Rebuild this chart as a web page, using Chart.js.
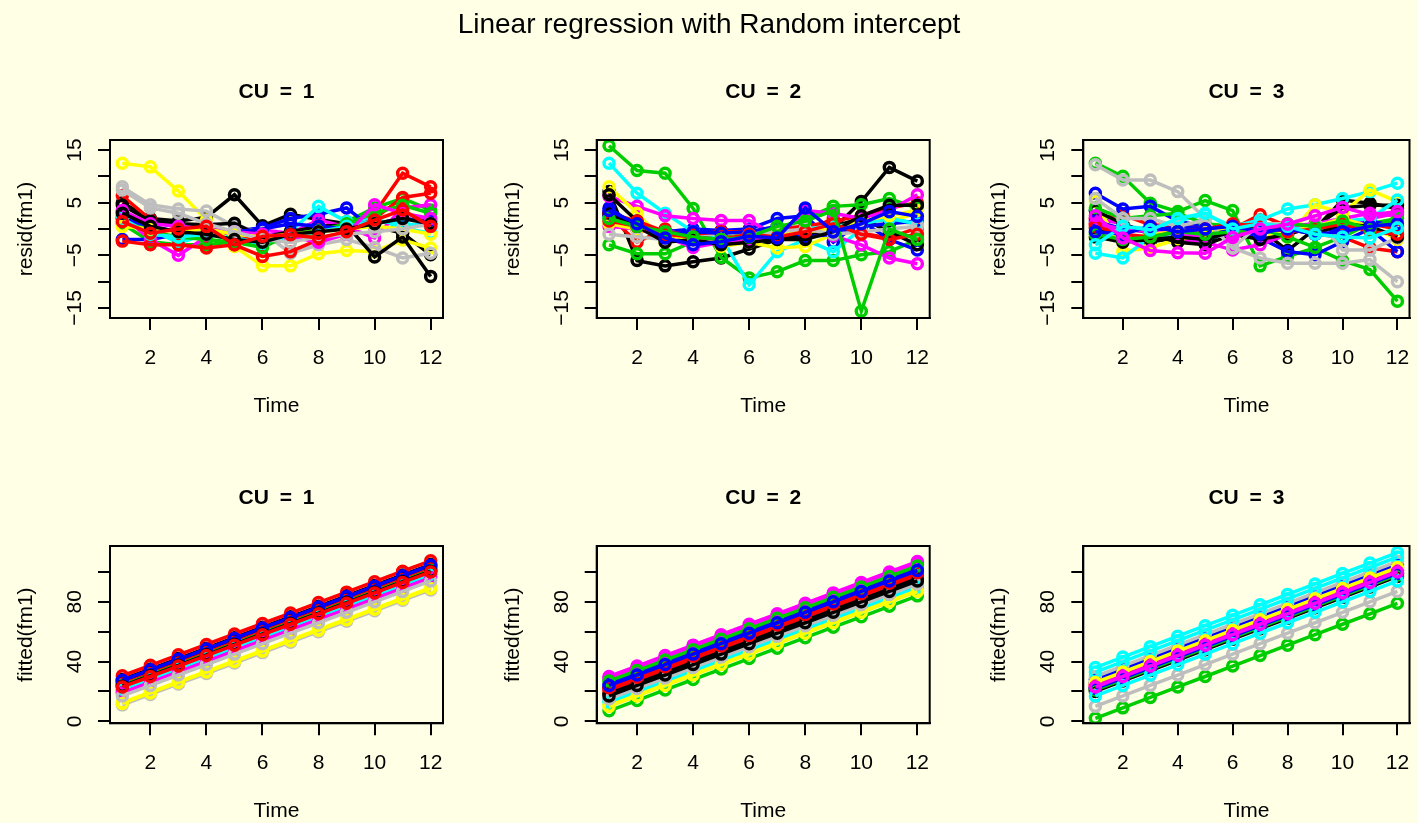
<!DOCTYPE html>
<html>
<head>
<meta charset="utf-8">
<title>Linear regression with Random intercept</title>
<script src="https://cdn.jsdelivr.net/npm/chart.js@4.4.1/dist/chart.umd.min.js"></script>
<style>
  html, body { margin: 0; padding: 0; background: #FFFFE5; }
  #wrap { position: relative; width: 1418px; height: 823px; overflow: hidden; }
  #wrap canvas { position: absolute; left: 0; top: 0; }
</style>
</head>
<body>
<div id="wrap"></div>
<script>
// R default palette, recycled over subjects
const palette = ['#000000', '#FF0000', '#00CD00', '#0000FF', '#00FFFF', '#FF00FF', '#FFFF00', '#BEBEBE'];

const times = [1, 2, 3, 4, 5, 6, 7, 8, 9, 10, 11, 12];
const xTicks = [2, 4, 6, 8, 10, 12];
const residTicks = [-15, -10, -5, 0, 5, 10, 15];
const residTickLabels = ['\u221215', '', '\u22125', '', '5', '', '15'];
const fittedTicks = [0, 20, 40, 60, 80, 100];
const fittedTickLabels = ['0', '', '40', '', '80', ''];
const cuTitles = ['CU = 1', 'CU = 2', 'CU = 3'];

// residuals, one row per subject
const residCU1 = [
  [5.0, 2.0, 1.5, 2.2, 6.5, 0.6, 2.8, 1.8, 1.0, 0.5, -0.8, -4.9],
  [6.3, 1.8, 0.2, -0.5, -1.5, -2.0, -0.5, 0.5, 1.0, 3.0, 10.6, 8.0],
  [1.0, -2.4, -3.0, -3.0, -2.4, -3.0, -1.4, -0.8, 1.4, 4.0, 5.8, 3.6],
  [-2.0, -2.0, -1.0, -0.5, -0.3, 0.2, 2.0, 2.8, 4.0, -0.2, 0.5, 1.0],
  [3.3, 0.0, -2.7, -1.0, -1.5, -3.0, -0.5, 4.3, 1.4, 2.0, 0.2, -0.8],
  [2.5, -2.0, -5.0, -1.5, -0.5, -0.2, -0.8, 1.7, 0.4, -1.7, 4.0, 4.6],
  [12.5, 11.8, 7.2, 1.7, -3.3, -7.0, -7.0, -4.7, -4.1, -4.3, -2.1, -3.6],
  [8.0, 4.6, 3.8, 3.4, 0.5, -0.5, -4.6, -3.0, -2.0, -3.5, -5.5, -4.6],
  [4.5, 1.5, 1.0, 0.8, 1.1, -1.5, -0.5, 0.5, 0.8, -5.3, -1.5, -9.0],
  [-2.3, -3.0, -3.0, -3.6, -3.0, -5.2, -4.3, -2.0, -0.5, 2.0, 6.0, 6.8],
  [2.0, -0.5, -1.5, -2.0, -2.5, -3.5, -1.0, -0.3, 1.0, 3.0, 4.5, 3.0],
  [2.0, 0.5, -0.5, 0.0, -0.5, 0.0, 1.0, 0.5, 0.0, 1.0, 2.0, 1.5],
  [2.0, -1.0, -1.5, -1.0, -2.0, -2.5, -1.5, -0.5, 0.5, 1.5, 1.0, 0.5],
  [3.5, 1.0, 0.5, 0.0, -0.5, -1.0, -1.5, -2.5, -1.0, 4.6, 3.0, 2.0],
  [0.5, 0.0, -0.5, 0.0, -1.0, -1.5, -1.0, -0.5, 0.0, 0.5, 0.0, -1.0],
  [7.4, 4.0, 3.0, 1.0, -0.5, -2.0, -2.5, -1.5, -1.0, -0.5, 0.0, 1.0],
  [3.0, 0.5, -0.5, -1.0, -2.0, -2.5, -1.0, -0.5, 0.0, 1.0, 2.0, 1.0],
  [1.4, -0.8, 0.0, 0.5, -3.0, -1.4, -1.1, -1.7, -0.5, 1.7, 3.6, 0.5]
];
const residCU2 = [
  [7.1, -6.0, -7.0, -6.2, -5.5, -3.8, -2.0, -1.5, 0.0, 5.2, 11.7, 9.1],
  [2.5, -2.5, 0.0, -1.5, -1.0, -1.5, -1.0, -0.5, 2.0, -0.8, -1.7, 0.2],
  [15.8, 11.1, 10.6, 3.9, -5.4, -9.3, -8.1, -6.0, -6.0, -4.9, -4.3, -2.0],
  [4.0, 0.5, -0.5, 0.0, -0.3, 0.0, 2.0, 2.5, -2.5, 1.5, -2.0, -4.0],
  [12.5, 6.8, 3.0, -0.5, -1.5, -10.6, -4.3, -2.0, -4.3, 0.0, 2.3, 0.8],
  [6.2, 4.3, 2.5, 2.0, 1.6, 1.6, -1.4, 0.5, -1.3, -3.0, -5.5, -6.6],
  [8.0, 3.0, -2.5, -1.0, -3.3, -2.5, -3.6, -3.3, -1.0, 2.0, 1.5, 3.0],
  [1.5, 0.5, -0.5, -1.0, -1.0, -0.5, 0.0, 0.5, 0.5, 1.0, 1.5, 1.0],
  [6.5, 1.5, -1.0, -2.0, -2.5, -2.0, -1.5, -1.0, 0.5, 2.0, -0.5, -3.0],
  [3.0, 1.5, -0.5, -1.0, -0.5, -0.5, 0.0, 0.5, 1.5, 2.5, 4.0, 5.0],
  [-3.0, -4.7, -4.7, -2.4, -1.8, -1.0, 0.0, 2.0, 4.3, 4.6, 5.8, 3.9],
  [2.5, 0.0, -1.0, -0.5, -0.8, -0.5, 0.5, -1.5, -1.0, 0.5, 1.0, 1.5],
  [2.0, 0.5, -1.0, -1.5, -2.0, -1.5, -1.0, 0.0, 0.5, 1.0, 2.0, 1.0],
  [0.5, 0.0, -1.5, -3.5, -2.5, -2.0, -1.5, 3.5, 3.0, 2.0, 3.5, 6.5],
  [1.0, 0.0, -1.0, -2.0, -2.0, -1.5, -1.0, -0.5, 0.0, 1.5, 2.5, 3.5],
  [-1.0, -1.5, -2.0, -2.5, -2.0, -1.0, -0.5, 0.0, -1.0, -0.5, 0.0, 0.5],
  [3.0, 0.5, -2.5, -2.0, -3.0, -2.5, -2.0, -2.0, -0.5, 2.5, 4.5, 4.5],
  [1.5, 0.5, -1.0, -1.5, -2.0, -1.0, -1.5, -0.5, 1.0, -1.0, -2.0, -1.0],
  [2.0, 0.5, -0.5, -1.5, -2.0, -1.5, 0.5, 1.5, 3.5, -15.6, 0.0, -2.0],
  [3.5, 1.0, -1.7, -3.0, -2.4, -1.4, -1.7, 4.0, -0.5, 1.0, 3.3, 2.4]
];
const residCU3 = [
  [0.2, -1.7, -2.4, -1.7, -2.7, 0.3, 0.0, -4.1, 0.0, 5.5, 4.9, 3.9],
  [2.0, 2.7, 0.8, 0.5, 0.2, 0.0, 2.7, 0.5, -1.0, -1.5, -3.6, -4.3],
  [12.5, 10.0, 4.9, 3.3, 5.4, 3.5, -7.0, -5.2, -3.6, -6.0, -7.7, -13.7],
  [6.8, 3.8, 4.3, 1.5, 0.5, 0.0, -1.7, -4.3, -4.9, -2.4, 0.0, -4.3],
  [3.5, 0.5, 0.0, 1.5, 2.8, 0.5, 1.7, 3.8, 4.6, 5.8, 7.1, 8.7],
  [2.0, 1.0, -1.0, -2.0, -2.5, -4.0, -3.0, -1.0, 0.5, 1.0, 2.0, 3.0],
  [5.2, -4.3, -3.5, -2.0, -1.0, 0.0, -1.0, -1.5, 4.6, 3.0, 7.4, 5.2],
  [12.2, 9.3, 9.3, 7.1, 2.0, -3.6, -5.5, -6.5, -6.5, -6.5, -5.8, -10.0],
  [3.5, 1.0, -1.0, -2.5, -3.0, -1.0, -2.0, -1.0, 0.5, 4.0, 4.5, 4.5],
  [1.0, 0.0, -0.5, -1.0, -0.5, 0.5, 1.0, 0.0, -0.5, 0.5, 1.0, 0.0],
  [4.0, 2.0, 2.5, 3.0, 1.0, 0.5, 0.0, -1.5, -3.5, -1.5, 1.0, 2.0],
  [1.5, 0.0, -0.5, 0.5, 0.0, -0.5, -1.0, 0.5, -0.5, 0.0, 1.5, 0.5],
  [-4.6, -5.5, -1.5, -1.0, -2.0, -0.5, 0.5, 1.0, -1.0, 1.5, 2.0, 5.5],
  [1.0, 0.0, -0.5, -1.0, -1.5, -1.0, 0.0, 0.5, 1.0, 2.0, 3.0, 2.5],
  [-1.5, -2.0, -1.0, -0.5, -0.5, 0.5, 0.0, -0.5, 0.5, 2.0, 0.5, -2.0],
  [5.8, 2.0, 2.0, 0.5, 1.7, -3.6, 1.0, 1.0, 2.5, -4.0, -4.0, -1.7],
  [-1.5, -2.5, -2.0, -1.5, -2.0, -0.5, 0.5, 0.0, -1.0, 1.0, 0.5, -1.5],
  [0.5, -1.0, -1.5, -0.5, 0.0, 1.0, 0.5, -0.5, 0.0, 1.0, -0.5, -1.0],
  [-1.0, -2.0, -1.5, -0.5, -1.0, -0.5, 0.0, 1.0, 0.5, 1.5, 0.0, 2.0],
  [-0.5, -1.0, 0.5, -0.5, 0.0, 0.5, -0.5, 0.0, -1.0, -0.5, 0.5, 1.0],
  [-3.0, 0.5, -0.2, 2.0, 3.0, 0.0, 1.0, 0.5, -1.0, -1.5, -1.7, 0.2],
  [2.5, -1.7, -4.1, -4.5, -4.6, -1.6, 0.0, 0.9, 2.5, 4.1, 2.7, 3.3]
];

// fitted values, one row per subject
const fittedCU1 = [
  [28, 35, 42, 49, 56, 63, 70, 77, 84, 91, 98, 105],
  [30.5, 37.5, 44.5, 51.5, 58.5, 65.5, 72.5, 79.5, 86.5, 93.5, 100.5, 107.5],
  [24, 31, 38, 45, 52, 59, 66, 73, 80, 87, 94, 101],
  [27, 34, 41, 48, 55, 62, 69, 76, 83, 90, 97, 104],
  [21, 28, 35, 42, 49, 56, 63, 70, 77, 84, 91, 98],
  [20, 27, 34, 41, 48, 55, 62, 69, 76, 83, 90, 97],
  [12.5, 19.5, 26.5, 33.5, 40.5, 47.5, 54.5, 61.5, 68.5, 75.5, 82.5, 89.5],
  [11, 18, 25, 32, 39, 46, 53, 60, 67, 74, 81, 88],
  [26, 33, 40, 47, 54, 61, 68, 75, 82, 89, 96, 103],
  [25, 32, 39, 46, 53, 60, 67, 74, 81, 88, 95, 102],
  [24, 31, 38, 45, 52, 59, 66, 73, 80, 87, 94, 101],
  [27.5, 34.5, 41.5, 48.5, 55.5, 62.5, 69.5, 76.5, 83.5, 90.5, 97.5, 104.5],
  [21.5, 28.5, 35.5, 42.5, 49.5, 56.5, 63.5, 70.5, 77.5, 84.5, 91.5, 98.5],
  [19, 26, 33, 40, 47, 54, 61, 68, 75, 82, 89, 96],
  [12, 19, 26, 33, 40, 47, 54, 61, 68, 75, 82, 89],
  [17, 24, 31, 38, 45, 52, 59, 66, 73, 80, 87, 94],
  [23.5, 30.5, 37.5, 44.5, 51.5, 58.5, 65.5, 72.5, 79.5, 86.5, 93.5, 100.5],
  [23, 30, 37, 44, 51, 58, 65, 72, 79, 86, 93, 100]
];
const fittedCU2 = [
  [18, 25, 32, 39, 46, 53, 60, 67, 74, 81, 88, 95],
  [22, 29, 36, 43, 50, 57, 64, 71, 78, 85, 92, 99],
  [28, 35, 42, 49, 56, 63, 70, 77, 84, 91, 98, 105],
  [25, 32, 39, 46, 53, 60, 67, 74, 81, 88, 95, 102],
  [14, 21, 28, 35, 42, 49, 56, 63, 70, 77, 84, 91],
  [30, 37, 44, 51, 58, 65, 72, 79, 86, 93, 100, 107],
  [11, 18, 25, 32, 39, 46, 53, 60, 67, 74, 81, 88],
  [16, 23, 30, 37, 44, 51, 58, 65, 72, 79, 86, 93],
  [19, 26, 33, 40, 47, 54, 61, 68, 75, 82, 89, 96],
  [21, 28, 35, 42, 49, 56, 63, 70, 77, 84, 91, 98],
  [7, 14, 21, 28, 35, 42, 49, 56, 63, 70, 77, 84],
  [23, 30, 37, 44, 51, 58, 65, 72, 79, 86, 93, 100],
  [13, 20, 27, 34, 41, 48, 55, 62, 69, 76, 83, 90],
  [29, 36, 43, 50, 57, 64, 71, 78, 85, 92, 99, 106],
  [10, 17, 24, 31, 38, 45, 52, 59, 66, 73, 80, 87],
  [15, 22, 29, 36, 43, 50, 57, 64, 71, 78, 85, 92],
  [17, 24, 31, 38, 45, 52, 59, 66, 73, 80, 87, 94],
  [22.5, 29.5, 36.5, 43.5, 50.5, 57.5, 64.5, 71.5, 78.5, 85.5, 92.5, 99.5],
  [27, 34, 41, 48, 55, 62, 69, 76, 83, 90, 97, 104],
  [24, 31, 38, 45, 52, 59, 66, 73, 80, 87, 94, 101]
];
const fittedCU3 = [
  [21, 28, 35, 42, 49, 56, 63, 70, 77, 84, 91, 98],
  [24, 31, 38, 45, 52, 59, 66, 73, 80, 87, 94, 101],
  [2, 9, 16, 23, 30, 37, 44, 51, 58, 65, 72, 79],
  [28, 35, 42, 49, 56, 63, 70, 77, 84, 91, 98, 105],
  [36, 43, 50, 57, 64, 71, 78, 85, 92, 99, 106, 113],
  [23, 30, 37, 44, 51, 58, 65, 72, 79, 86, 93, 100],
  [25, 32, 39, 46, 53, 60, 67, 74, 81, 88, 95, 102],
  [30, 37, 44, 51, 58, 65, 72, 79, 86, 93, 100, 107],
  [22, 29, 36, 43, 50, 57, 64, 71, 78, 85, 92, 99],
  [25, 32, 39, 46, 53, 60, 67, 74, 81, 88, 95, 102],
  [22, 29, 36, 43, 50, 57, 64, 71, 78, 85, 92, 99],
  [26, 33, 40, 47, 54, 61, 68, 75, 82, 89, 96, 103],
  [33, 40, 47, 54, 61, 68, 75, 82, 89, 96, 103, 110],
  [24, 31, 38, 45, 52, 59, 66, 73, 80, 87, 94, 101],
  [26, 33, 40, 47, 54, 61, 68, 75, 82, 89, 96, 103],
  [10, 17, 24, 31, 38, 45, 52, 59, 66, 73, 80, 87],
  [20, 27, 34, 41, 48, 55, 62, 69, 76, 83, 90, 97],
  [23, 30, 37, 44, 51, 58, 65, 72, 79, 86, 93, 100],
  [21, 28, 35, 42, 49, 56, 63, 70, 77, 84, 91, 98],
  [22, 29, 36, 43, 50, 57, 64, 71, 78, 85, 92, 99],
  [17, 24, 31, 38, 45, 52, 59, 66, 73, 80, 87, 94],
  [23, 30, 37, 44, 51, 58, 65, 72, 79, 86, 93, 100]
];

// page layout
const W = 1418, H = 823;
const FONT = '"Liberation Sans", Arial, Helvetica, sans-serif';
const boxLefts = [110, 596.7, 1083.3];
const boxWidth = 333;
const rowBoxes = [{ top: 140, bottom: 318 }, { top: 546, bottom: 723.3 }];
const AXIS_W = 20, AXIS_H = 20;

// box, tick labels and titles, drawn R style
const panelDecor = {
  id: 'panelDecor',
  afterDraw(chart, args, opts) {
    const { ctx, chartArea: a, scales } = chart;
    ctx.save();
    ctx.strokeStyle = '#000';
    ctx.lineWidth = 2;
    ctx.strokeRect(a.left, a.top, a.right - a.left, a.bottom - a.top);

    ctx.fillStyle = '#000';
    ctx.textAlign = 'center';
    ctx.textBaseline = 'alphabetic';
    ctx.font = '21px ' + FONT;
    xTicks.forEach(v => ctx.fillText(String(v), scales.x.getPixelForValue(v), a.bottom + 45.5));
    opts.yTicks.forEach((v, i) => {
      const lab = opts.yLabels[i];
      if (!lab) return;
      ctx.save();
      ctx.translate(a.left - 29, scales.y.getPixelForValue(v));
      ctx.rotate(-Math.PI / 2);
      ctx.fillText(lab, 0, 0);
      ctx.restore();
    });

    ctx.fillText('Time', (a.left + a.right) / 2, a.bottom + 94);
    ctx.save();
    ctx.translate(a.left - 78, (a.top + a.bottom) / 2);
    ctx.rotate(-Math.PI / 2);
    ctx.fillText(opts.yTitle, 0, 0);
    ctx.restore();

    ctx.font = 'bold 21px ' + FONT;
    if ('wordSpacing' in ctx) ctx.wordSpacing = '5px';
    ctx.fillText(opts.title, (a.left + a.right) / 2, a.top - 42);
    if ('wordSpacing' in ctx) ctx.wordSpacing = '0px';

    if (opts.mainTitle) {
      ctx.font = '28px ' + FONT;
      ctx.fillText(opts.mainTitle, W / 2, 33);
    }
    ctx.restore();
  }
};

function makePanel(col, row, series, yMin, yMax, yTicks, yLabels, yTitle, mainTitle) {
  const wrap = document.getElementById('wrap');
  const canvas = document.createElement('canvas');
  canvas.width = W;
  canvas.height = H;
  wrap.appendChild(canvas);

  const left = boxLefts[col], right = left + boxWidth;
  const top = rowBoxes[row].top, bottom = rowBoxes[row].bottom;

  const datasets = series.map((vals, i) => {
    const color = palette[i % palette.length];
    return {
      data: vals.map((v, j) => ({ x: times[j], y: v })),
      borderColor: color,
      borderWidth: 3.5,
      pointBorderColor: color,
      pointBackgroundColor: 'rgba(0,0,0,0)',
      pointRadius: 5,
      pointBorderWidth: 3.5,
      tension: 0,
      order: series.length - i
    };
  });

  const axisGrid = { drawOnChartArea: false, drawTicks: true, tickLength: 12, color: '#000', lineWidth: 2 };

  new Chart(canvas, {
    type: 'line',
    data: { datasets },
    options: {
      responsive: false,
      animation: false,
      devicePixelRatio: 1,
      events: [],
      layout: {
        padding: { left: left - AXIS_W, right: W - right, top: top, bottom: H - bottom - AXIS_H }
      },
      plugins: {
        legend: { display: false },
        tooltip: { enabled: false },
        panelDecor: { yTicks, yLabels, yTitle, title: cuTitles[col], mainTitle }
      },
      scales: {
        x: {
          type: 'linear',
          min: 0.56,
          max: 12.44,
          afterBuildTicks: s => { s.ticks = xTicks.map(v => ({ value: v })); },
          afterFit: s => { s.height = AXIS_H; },
          ticks: { display: false },
          grid: axisGrid,
          border: { display: true, color: '#000', width: 2 }
        },
        y: {
          type: 'linear',
          min: yMin,
          max: yMax,
          afterBuildTicks: s => { s.ticks = yTicks.map(v => ({ value: v })); },
          afterFit: s => { s.width = AXIS_W; },
          ticks: { display: false },
          grid: axisGrid,
          border: { display: true, color: '#000', width: 2 }
        }
      }
    },
    plugins: [panelDecor]
  });
}

const residSets = [residCU1, residCU2, residCU3];
const fittedSets = [fittedCU1, fittedCU2, fittedCU3];

residSets.forEach((s, c) => {
  makePanel(c, 0, s, -16.9, 16.9, residTicks, residTickLabels, 'resid(fm1)',
    c === 0 ? 'Linear regression with Random intercept' : null);
});
fittedSets.forEach((s, c) => {
  makePanel(c, 1, s, -1.34, 117.4, fittedTicks, fittedTickLabels, 'fitted(fm1)', null);
});
</script>
</body>
</html>
